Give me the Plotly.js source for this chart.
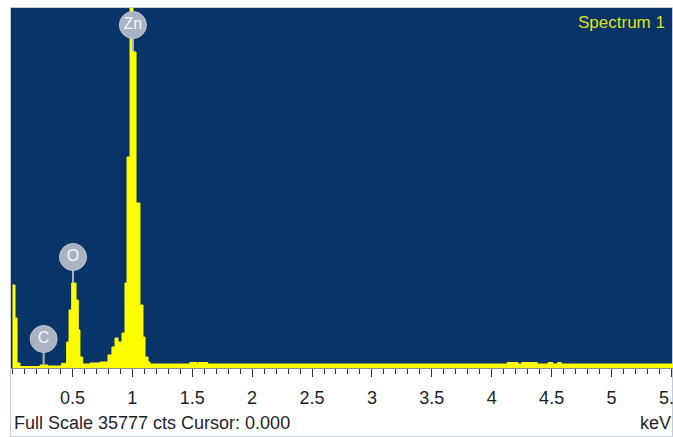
<!DOCTYPE html>
<html>
<head>
<meta charset="utf-8">
<script src="https://cdn.plot.ly/plotly-3.0.1.min.js"></script>
<style>
  html, body { margin: 0; padding: 0; background: #ffffff; }
  #chart { width: 673px; height: 437px; }
</style>
</head>
<body>
<div id="chart"></div>
<script>
// ---- data (energy in keV, counts per step start) ----
const energyKeV = [0.000, 0.021, 0.038, 0.063, 0.230, 0.296, 0.410, 0.452, 0.472, 0.494,
                   0.530, 0.549, 0.563, 0.586, 0.647, 0.730, 0.797, 0.830, 0.856, 0.881,
                   0.914, 0.939, 0.956, 0.981, 1.006, 1.031, 1.064, 1.089, 1.106, 1.131,
                   1.148, 1.480, 1.540, 1.550, 1.630, 4.130, 4.220, 4.250, 4.380, 4.470,
                   4.510, 4.550, 4.580, 5.513];
const counts    = [8300, 5000, 500, 150, 300, 200, 470, 2600, 5800, 8500,
                   6800, 3800, 1100, 400, 500, 600, 1300, 2100, 3000, 2600,
                   3500, 8500, 21100, 38000, 31600, 16500, 6300, 3100, 1100, 600,
                   400, 550, 400, 550, 400, 550, 400, 550, 400, 550,
                   400, 550, 400, 400];
const elementNames  = ['C', 'O', 'Zn'];
const elementEnergy = [0.26, 0.505, 1.005];
const tickValues = [0.5, 1, 1.5, 2, 2.5, 3, 3.5, 4, 4.5, 5, 5.5];
const tickLabels = ['0.5', '1', '1.5', '2', '2.5', '3', '3.5', '4', '4.5', '5', '5.5'];
const fullScale = 35777;

// ---- layout constants ----
const W = 673, H = 437;
const M = {l: 11, r: 0, t: 8, b: 69};
const Y_TOP = 36000;
const X_RANGE = [-0.0125, 5.513];
const plotW = W - M.l - M.r, plotH = H - M.t - M.b;
const px2paperX = p => (p - M.l) / plotW;
const px2paperY = p => (H - M.b - p) / plotH;

function peakAt(e) {
  let v = counts[0];
  for (let i = 0; i < energyKeV.length; i++) { if (energyKeV[i] <= e) v = counts[i]; }
  return v;
}
const labelY = elementEnergy.map(e => Math.min(peakAt(e) + 2600, Y_TOP - 1700));

const traces = [];
traces.push({
  x: energyKeV, y: counts, type: 'scatter', mode: 'lines',
  line: {shape: 'hv', color: '#ffff00', width: 1},
  fill: 'tozeroy', fillcolor: '#ffff00', hoverinfo: 'skip', showlegend: false
});
elementEnergy.forEach((e, i) => {
  traces.push({
    x: [e, e], y: [labelY[i], labelY[i] - 2600], type: 'scatter', mode: 'lines',
    line: {color: '#a9b3c2', width: 2}, hoverinfo: 'skip', showlegend: false
  });
});
traces.push({
  x: elementEnergy, y: labelY, type: 'scatter', mode: 'markers+text',
  text: elementNames, textposition: 'middle center',
  textfont: {family: 'Liberation Sans, Arial, sans-serif', size: 16, color: '#f4f7fb'},
  marker: {symbol: 'circle', size: 27, color: '#a9b3c2', line: {color: '#bcc5d2', width: 1}},
  hoverinfo: 'skip', showlegend: false, cliponaxis: false
});

const layout = {
  width: W, height: H,
  margin: M,
  paper_bgcolor: '#ffffff', plot_bgcolor: '#083467',
  showlegend: false,
  font: {family: 'Liberation Sans, Arial, sans-serif', color: '#222222'},
  xaxis: {
    range: X_RANGE, showgrid: false, zeroline: false,
    showline: true, linecolor: '#8a8f99', linewidth: 1,
    tickmode: 'array', tickvals: tickValues, ticktext: tickLabels,
    ticks: 'outside', ticklen: 8, tickwidth: 1, tickcolor: '#333333',
    ticklabelstandoff: 5, ticklabeloverflow: 'allow',
    tickfont: {size: 18, color: '#1e1e2a'},
    minor: {tickmode: 'linear', tick0: 0, dtick: 0.1, ticks: 'outside', ticklen: 5, tickwidth: 1, tickcolor: '#333333'},
    fixedrange: true
  },
  yaxis: {
    range: [0, Y_TOP], showgrid: false, zeroline: false, showline: false,
    showticklabels: false, ticks: '', fixedrange: true
  },
  shapes: [{
    type: 'rect', xref: 'paper', yref: 'paper', layer: 'below',
    x0: px2paperX(10.5), x1: px2paperX(672.5), y0: px2paperY(436.5), y1: px2paperY(7.5),
    line: {color: '#c3ccd8', width: 1}, fillcolor: 'rgba(0,0,0,0)'
  }],
  annotations: [
    {xref: 'paper', yref: 'paper', x: px2paperX(667), y: px2paperY(23), xanchor: 'right', yanchor: 'middle',
     text: 'Spectrum 1', showarrow: false, font: {size: 17, color: '#dfe01e'}},
    {xref: 'paper', yref: 'paper', x: px2paperX(12), y: px2paperY(423), xanchor: 'left', yanchor: 'middle',
     text: 'Full Scale ' + fullScale + ' cts Cursor: 0.000', showarrow: false, font: {size: 18, color: '#1e1e2a'}},
    {xref: 'paper', yref: 'paper', x: px2paperX(673), y: px2paperY(423), xanchor: 'right', yanchor: 'middle',
     text: 'keV', showarrow: false, font: {size: 18, color: '#1e1e2a'}}
  ]
};

Plotly.newPlot('chart', traces, layout, {displayModeBar: false, staticPlot: true});
</script>
</body>
</html>
